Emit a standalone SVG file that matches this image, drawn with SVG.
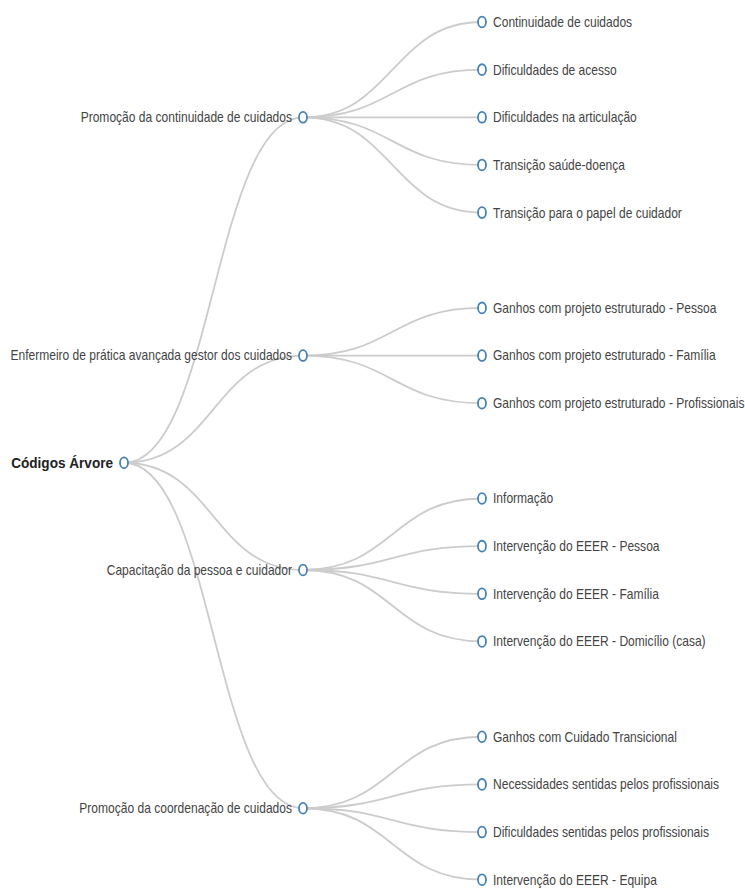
<svg xmlns="http://www.w3.org/2000/svg" width="745" height="888" viewBox="0 0 745 888">
  <style>
    .link { fill: none; stroke: #cccccc; stroke-width: 1.8; }
    .node ellipse { fill: #ffffff; stroke: #4682b4; stroke-width: 1.8; }
    .node text { font-family: "Liberation Sans", Arial, sans-serif; font-size: 14px; fill: #444444; }
    .node text.l { text-anchor: end; }
    .node text.root { font-weight: bold; fill: #222222; }
  </style>
  <rect width="745" height="888" fill="#ffffff"/>

  <!-- connectors: horizontal cubic diagonals from parent to child -->
  <g id="links">
    <path class="link" d="M124,462.76 C213.5,462.76 213.5,117.3 303,117.3"/>
    <path class="link" d="M124,462.76 C213.5,462.76 213.5,355.55 303,355.55"/>
    <path class="link" d="M124,462.76 C213.5,462.76 213.5,569.98 303,569.98"/>
    <path class="link" d="M124,462.76 C213.5,462.76 213.5,808.23 303,808.23"/>

    <path class="link" d="M303,117.3 C392.5,117.3 392.5,22 482,22"/>
    <path class="link" d="M303,117.3 C392.5,117.3 392.5,69.65 482,69.65"/>
    <path class="link" d="M303,117.3 C392.5,117.3 392.5,117.3 482,117.3"/>
    <path class="link" d="M303,117.3 C392.5,117.3 392.5,164.95 482,164.95"/>
    <path class="link" d="M303,117.3 C392.5,117.3 392.5,212.6 482,212.6"/>

    <path class="link" d="M303,355.55 C392.5,355.55 392.5,307.9 482,307.9"/>
    <path class="link" d="M303,355.55 C392.5,355.55 392.5,355.55 482,355.55"/>
    <path class="link" d="M303,355.55 C392.5,355.55 392.5,403.2 482,403.2"/>

    <path class="link" d="M303,569.98 C392.5,569.98 392.5,498.5 482,498.5"/>
    <path class="link" d="M303,569.98 C392.5,569.98 392.5,546.15 482,546.15"/>
    <path class="link" d="M303,569.98 C392.5,569.98 392.5,593.8 482,593.8"/>
    <path class="link" d="M303,569.98 C392.5,569.98 392.5,641.45 482,641.45"/>

    <path class="link" d="M303,808.23 C392.5,808.23 392.5,736.75 482,736.75"/>
    <path class="link" d="M303,808.23 C392.5,808.23 392.5,784.4 482,784.4"/>
    <path class="link" d="M303,808.23 C392.5,808.23 392.5,832.05 482,832.05"/>
    <path class="link" d="M303,808.23 C392.5,808.23 392.5,879.7 482,879.7"/>
  </g>

  <!-- root -->
  <g id="n-root" class="node">
    <ellipse cx="124" cy="462.76" rx="4" ry="5.4"/>
    <text class="l root" transform="translate(113,467.7) scale(0.97,1)">Códigos Árvore</text>
  </g>

  <!-- first level -->
  <g id="n-continuidade" class="node">
    <ellipse cx="303" cy="117.3" rx="4" ry="5.4"/>
    <text class="l" transform="translate(292,122.2) scale(0.86,1)">Promoção da continuidade de cuidados</text>
  </g>
  <g id="n-enfermeiro" class="node">
    <ellipse cx="303" cy="355.55" rx="4" ry="5.4"/>
    <text class="l" transform="translate(292,360.45) scale(0.86,1)">Enfermeiro de prática avançada gestor dos cuidados</text>
  </g>
  <g id="n-capacitacao" class="node">
    <ellipse cx="303" cy="569.98" rx="4" ry="5.4"/>
    <text class="l" transform="translate(292,574.9) scale(0.86,1)">Capacitação da pessoa e cuidador</text>
  </g>
  <g id="n-coordenacao" class="node">
    <ellipse cx="303" cy="808.23" rx="4" ry="5.4"/>
    <text class="l" transform="translate(292,813.1) scale(0.86,1)">Promoção da coordenação de cuidados</text>
  </g>

  <!-- leaves: Promoção da continuidade de cuidados -->
  <g id="n-c1" class="node">
    <ellipse cx="482" cy="22" rx="4" ry="5.4"/>
    <text transform="translate(493,26.9) scale(0.86,1)">Continuidade de cuidados</text>
  </g>
  <g id="n-c2" class="node">
    <ellipse cx="482" cy="69.65" rx="4" ry="5.4"/>
    <text transform="translate(493,74.55) scale(0.86,1)">Dificuldades de acesso</text>
  </g>
  <g id="n-c3" class="node">
    <ellipse cx="482" cy="117.3" rx="4" ry="5.4"/>
    <text transform="translate(493,122.2) scale(0.86,1)">Dificuldades na articulação</text>
  </g>
  <g id="n-c4" class="node">
    <ellipse cx="482" cy="164.95" rx="4" ry="5.4"/>
    <text transform="translate(493,169.85) scale(0.86,1)">Transição saúde-doença</text>
  </g>
  <g id="n-c5" class="node">
    <ellipse cx="482" cy="212.6" rx="4" ry="5.4"/>
    <text transform="translate(493,217.5) scale(0.86,1)">Transição para o papel de cuidador</text>
  </g>

  <!-- leaves: Enfermeiro de prática avançada gestor dos cuidados -->
  <g id="n-e1" class="node">
    <ellipse cx="482" cy="307.9" rx="4" ry="5.4"/>
    <text transform="translate(493,312.8) scale(0.86,1)">Ganhos com projeto estruturado - Pessoa</text>
  </g>
  <g id="n-e2" class="node">
    <ellipse cx="482" cy="355.55" rx="4" ry="5.4"/>
    <text transform="translate(493,360.45) scale(0.86,1)">Ganhos com projeto estruturado - Família</text>
  </g>
  <g id="n-e3" class="node">
    <ellipse cx="482" cy="403.2" rx="4" ry="5.4"/>
    <text transform="translate(493,408.1) scale(0.86,1)">Ganhos com projeto estruturado - Profissionais</text>
  </g>

  <!-- leaves: Capacitação da pessoa e cuidador -->
  <g id="n-p1" class="node">
    <ellipse cx="482" cy="498.5" rx="4" ry="5.4"/>
    <text transform="translate(493,503.4) scale(0.86,1)">Informação</text>
  </g>
  <g id="n-p2" class="node">
    <ellipse cx="482" cy="546.15" rx="4" ry="5.4"/>
    <text transform="translate(493,551.05) scale(0.86,1)">Intervenção do EEER - Pessoa</text>
  </g>
  <g id="n-p3" class="node">
    <ellipse cx="482" cy="593.8" rx="4" ry="5.4"/>
    <text transform="translate(493,598.7) scale(0.86,1)">Intervenção do EEER - Família</text>
  </g>
  <g id="n-p4" class="node">
    <ellipse cx="482" cy="641.45" rx="4" ry="5.4"/>
    <text transform="translate(493,646.35) scale(0.86,1)">Intervenção do EEER - Domicílio (casa)</text>
  </g>

  <!-- leaves: Promoção da coordenação de cuidados -->
  <g id="n-o1" class="node">
    <ellipse cx="482" cy="736.75" rx="4" ry="5.4"/>
    <text transform="translate(493,741.65) scale(0.86,1)">Ganhos com Cuidado Transicional</text>
  </g>
  <g id="n-o2" class="node">
    <ellipse cx="482" cy="784.4" rx="4" ry="5.4"/>
    <text transform="translate(493,789.3) scale(0.86,1)">Necessidades sentidas pelos profissionais</text>
  </g>
  <g id="n-o3" class="node">
    <ellipse cx="482" cy="832.05" rx="4" ry="5.4"/>
    <text transform="translate(493,836.95) scale(0.86,1)">Dificuldades sentidas pelos profissionais</text>
  </g>
  <g id="n-o4" class="node">
    <ellipse cx="482" cy="879.7" rx="4" ry="5.4"/>
    <text transform="translate(493,884.6) scale(0.86,1)">Intervenção do EEER - Equipa</text>
  </g>
</svg>
